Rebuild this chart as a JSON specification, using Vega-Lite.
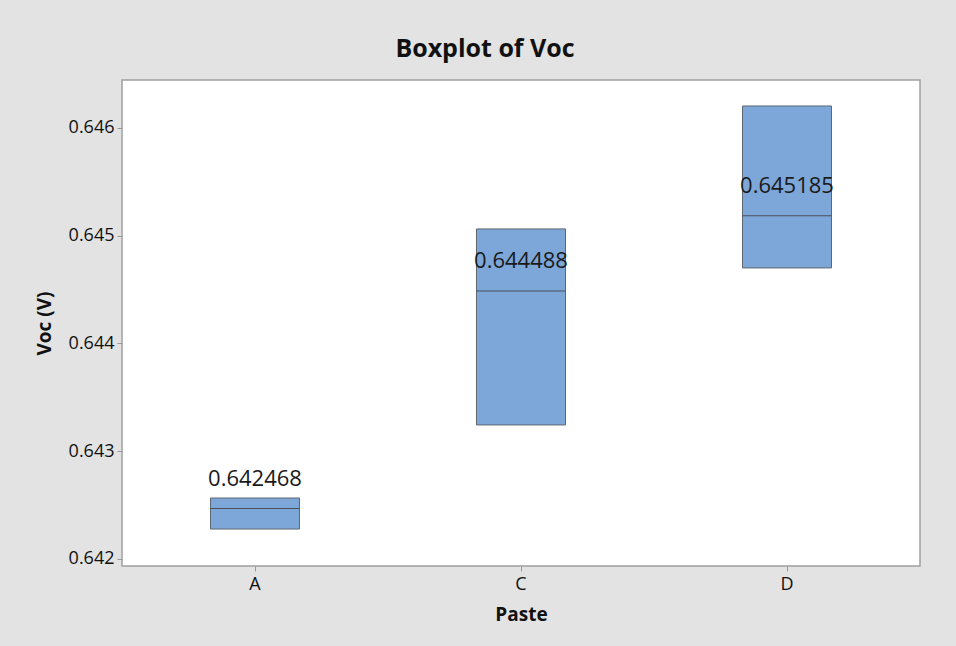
{
  "$schema": "https://vega.github.io/schema/vega-lite/v6.json",
  "width": 798,
  "height": 486,
  "autosize": {"type": "none"},
  "padding": {"left": 122, "top": 80, "right": 36, "bottom": 80},
  "background": "#e3e3e3",
  "title": {
    "text": "Boxplot of Voc",
    "font": "Open Sans",
    "fontSize": 25,
    "fontWeight": "bold",
    "color": "#111111",
    "anchor": "middle",
    "dx": -36,
    "offset": 18
  },
  "data": {
    "values": [
      {"Paste": "A", "q1": 0.642278, "q3": 0.642566, "median": 0.642468},
      {"Paste": "C", "q1": 0.643244, "q3": 0.645063, "median": 0.644488},
      {"Paste": "D", "q1": 0.644701, "q3": 0.646204, "median": 0.645185}
    ]
  },
  "encoding": {
    "x": {
      "field": "Paste",
      "type": "nominal",
      "scale": {"type": "band", "paddingInner": 0.6654, "paddingOuter": 0.3327},
      "axis": {
        "title": "Paste",
        "labelAngle": 0,
        "labelFont": "Open Sans",
        "labelFontSize": 18,
        "labelColor": "#111111",
        "labelPadding": 4,
        "titleFont": "Open Sans",
        "titleFontSize": 19,
        "titleFontWeight": "bold",
        "titleColor": "#111111",
        "titlePadding": 12,
        "tickSize": 5,
        "tickColor": "#999999",
        "domain": false,
        "grid": false
      }
    }
  },
  "layer": [
    {
      "mark": {"type": "bar", "fill": "#7da7d9", "stroke": "#5f6670", "strokeWidth": 1, "opacity": 1},
      "encoding": {
        "y": {
          "field": "q1",
          "type": "quantitative",
          "scale": {"domain": [0.641935, 0.646445], "nice": false, "zero": false},
          "axis": {
            "title": "Voc (V)",
            "values": [0.642, 0.643, 0.644, 0.645, 0.646],
            "format": ".3f",
            "labelFont": "Open Sans",
            "labelFontSize": 18,
            "labelColor": "#111111",
            "labelPadding": 3,
            "titleFont": "Open Sans",
            "titleFontSize": 19,
            "titleFontWeight": "bold",
            "titleColor": "#111111",
            "titlePadding": 14,
            "tickSize": 5,
            "tickColor": "#999999",
            "domain": false,
            "grid": false
          }
        },
        "y2": {"field": "q3"}
      }
    },
    {
      "mark": {"type": "tick", "size": 89, "thickness": 1, "color": "#4a4f58", "opacity": 1},
      "encoding": {
        "y": {"field": "median", "type": "quantitative"}
      }
    },
    {
      "mark": {"type": "text", "dy": -30, "font": "Open Sans", "fontSize": 22, "color": "#1a1a1a", "baseline": "middle"},
      "encoding": {
        "y": {"field": "median", "type": "quantitative"},
        "text": {"field": "median", "type": "quantitative", "format": ".6f"}
      }
    }
  ],
  "config": {
    "view": {"fill": "white", "stroke": "#a0a0a0", "strokeWidth": 1.5}
  }
}
